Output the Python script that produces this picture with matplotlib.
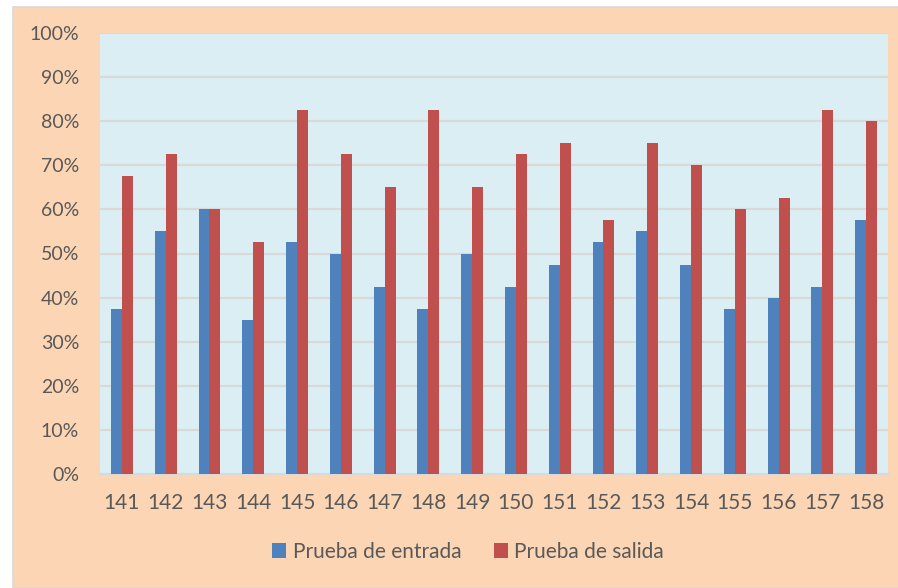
#!/usr/bin/env python3
import numpy as np
import matplotlib
matplotlib.use("Agg")
import matplotlib.pyplot as plt
from matplotlib.patches import Rectangle
from matplotlib.ticker import PercentFormatter

CATEGORIES = ["141", "142", "143", "144", "145", "146", "147", "148", "149",
              "150", "151", "152", "153", "154", "155", "156", "157", "158"]
ENTRADA = [37.5, 55, 60, 35, 52.5, 50, 42.5, 37.5, 50,
           42.5, 47.5, 52.5, 55, 47.5, 37.5, 40, 42.5, 57.5]
SALIDA = [67.5, 72.5, 60, 52.5, 82.5, 72.5, 65, 82.5, 65,
          72.5, 75, 57.5, 75, 70, 60, 62.5, 82.5, 80]
SERIES = ["Prueba de entrada", "Prueba de salida"]

BLUE = "#4F81BD"
RED = "#C0504D"
PEACH = "#FCD5B4"
PLOT_BG = "#DAEEF3"
TEXT = "#595959"
GRID = "#D9D9D9"

plt.rcParams["font.family"] = ["Lato", "DejaVu Sans"]

W, H = 898, 588
fig = plt.figure(figsize=(W / 100, H / 100), dpi=100, facecolor="white")
bg = Rectangle((12.5 / W, 0), 1, 1 - 6.5 / H, transform=fig.transFigure,
               facecolor=PEACH, edgecolor=GRID, linewidth=1.2, zorder=-10)
fig.add_artist(bg)

ax = fig.add_axes([100 / W, (H - 474) / H, (888 - 100) / W, (474 - 33) / H])
ax.set_facecolor(PLOT_BG)

x = np.arange(len(CATEGORIES))
w = 0.25
ax.bar(x - w / 2, ENTRADA, w, color=BLUE, label=SERIES[0], zorder=3)
ax.bar(x + w / 2, SALIDA, w, color=RED, label=SERIES[1], zorder=3)

ax.set_xlim(-0.5, len(CATEGORIES) - 0.5)
ax.set_ylim(0, 100)
ax.set_yticks(np.arange(0, 101, 10))
ax.yaxis.set_major_formatter(PercentFormatter(decimals=0))
ax.set_xticks(x)
ax.set_xticklabels(CATEGORIES)
ax.grid(axis="y", color=GRID, linewidth=1.5, zorder=1)
ax.tick_params(axis="both", length=0, colors=TEXT)
ax.tick_params(axis="x", labelsize=15, pad=14)
ax.tick_params(axis="y", labelsize=14, pad=15)
for side in ("top", "right", "left"):
    ax.spines[side].set_visible(False)
ax.spines["bottom"].set_color(GRID)
ax.spines["bottom"].set_linewidth(1.5)

leg = fig.legend(loc="center", bbox_to_anchor=(468 / W, 1 - 552 / H), ncol=2,
                 frameon=False, fontsize=15, handlelength=0.7, handleheight=0.7,
                 handletextpad=0.3, columnspacing=1.55)
for t in leg.get_texts():
    t.set_color(TEXT)

fig.savefig("out.png", dpi=100, facecolor=fig.get_facecolor())
